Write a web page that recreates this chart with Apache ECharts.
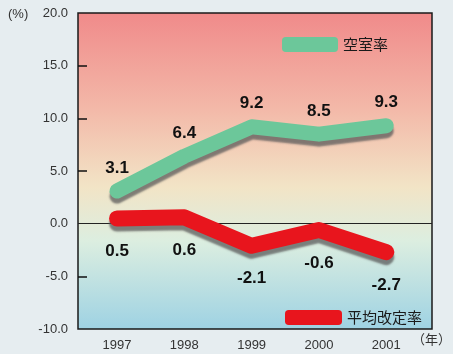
<!DOCTYPE html>
<html>
<head>
<meta charset="utf-8">
<script src="https://cdn.jsdelivr.net/npm/echarts@6/dist/echarts.min.js"></script>
<style>
html,body{margin:0;padding:0;background:#e6edf0;}
#c{width:453px;height:354px;}
</style>
</head>
<body>
<div id="c"></div>
<script>
var years = [1997, 1998, 1999, 2000, 2001];
var vacancyRate = [3.1, 6.4, 9.2, 8.5, 9.3];
var rentRevision = [0.5, 0.6, -2.1, -0.6, -2.7];
var yTicks = [-10, -5, 0, 5, 10, 15, 20];
var nameVacancy = '空室率';
var nameRent = '平均改定率';
var green = '#6cc79a';
var red = '#e8151d';

var chart = echarts.init(document.getElementById('c'));
var font = 'Liberation Sans, Arial, sans-serif';
function pairs(vals){ return years.map(function(y,i){ return [y, vals[i]]; }); }

chart.setOption({
  backgroundColor: '#e6edf0',
  animation: false,
  textStyle: { fontFamily: font },
  grid: {
    left: 78, right: 21, top: 13, bottom: 25,
    show: true,
    borderColor: '#1a1a1a', borderWidth: 1.5,
    backgroundColor: {
      type: 'linear', x: 0, y: 0, x2: 0, y2: 1,
      colorStops: [
        { offset: 0, color: '#f08a8a' },
        { offset: 0.3, color: '#f3b8a8' },
        { offset: 0.55, color: '#f2e4c6' },
        { offset: 0.72, color: '#dceee0' },
        { offset: 1, color: '#9ed2e3' }
      ]
    }
  },
  legend: [
    { data: [{ name: nameVacancy, itemStyle: { color: green, opacity: 1 } }], left: 277, top: 32, itemWidth: 56, itemHeight: 15, icon: 'roundRect', itemGap: 6,
      textStyle: { fontSize: 15, color: '#1a1a1a', fontFamily: 'Noto Sans CJK JP' } },
    { data: [{ name: nameRent, itemStyle: { color: red, opacity: 1 } }], left: 280, top: 305, itemWidth: 57, itemHeight: 15, icon: 'roundRect', itemGap: 5,
      textStyle: { fontSize: 15, color: '#1a1a1a', fontFamily: 'Noto Sans CJK JP' } }
  ],
  xAxis: {
    type: 'value', min: 1996.42, max: 2001.68,
    axisLine: { show: false },
    axisTick: { show: false },
    splitLine: { show: false },
    axisLabel: { customValues: years, color: '#333', fontSize: 13, margin: 10, fontFamily: font,
      formatter: function(v){ return String(v); } }
  },
  yAxis: {
    type: 'value', min: -10, max: 20, interval: 5,
    axisLine: { show: false },
    axisTick: { show: true, inside: true, length: 9, customValues: [-5, 5, 10, 15], lineStyle: { color: '#111', width: 1.5 } },
    splitLine: { show: false },
    axisLabel: { customValues: yTicks, color: '#333', fontSize: 13, margin: 10, fontFamily: font,
      formatter: function(v){ return v.toFixed(1); } }
  },
  graphic: [
    { type: 'text', left: 8, top: 8, style: { text: '(%)', fontSize: 13, fill: '#333', fontFamily: font } },
    { type: 'text', left: 412, top: 333, style: { text: '（年）', fontSize: 13, fill: '#333', fontFamily: 'Noto Sans CJK JP' } }
  ],
  series: [
    {
      name: nameVacancy, type: 'line', data: pairs(vacancyRate),
      color: green,
      symbol: 'circle', symbolSize: 1, showSymbol: true, z: 3,
      itemStyle: { color: 'rgba(0,0,0,0)' },
      lineStyle: { width: 15, color: green, cap: 'round', join: 'round',
        shadowColor: 'rgba(90,90,90,0.75)', shadowOffsetY: 5, shadowOffsetX: 0, shadowBlur: 2 },
      label: { show: true, position: 'top', distance: 14, fontSize: 17, fontWeight: 'bold', color: '#111', fontFamily: font }
    },
    {
      name: nameRent, type: 'line', data: pairs(rentRevision),
      color: red,
      symbol: 'circle', symbolSize: 1, showSymbol: true, z: 3,
      itemStyle: { color: 'rgba(0,0,0,0)' },
      lineStyle: { width: 16, color: red, cap: 'round', join: 'round',
        shadowColor: 'rgba(90,90,90,0.75)', shadowOffsetY: 5, shadowOffsetX: 0, shadowBlur: 2 },
      label: { show: true, position: 'bottom', distance: 24, fontSize: 17, fontWeight: 'bold', color: '#111', fontFamily: font },
      markLine: {
        silent: true, symbol: 'none', z: 2,
        lineStyle: { color: '#222', width: 1.2, type: 'solid' },
        label: { show: false },
        data: [{ yAxis: 0 }]
      }
    }
  ]
});
</script>
</body>
</html>
